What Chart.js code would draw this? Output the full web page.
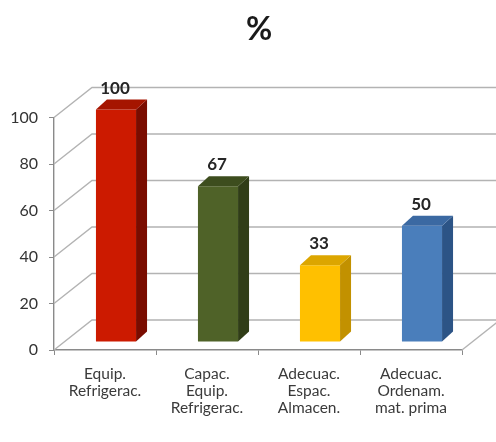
<!DOCTYPE html>
<html>
<head>
<meta charset="utf-8">
<script src="https://cdn.jsdelivr.net/npm/chart.js@4"></script>
<style>
  html, body { margin: 0; padding: 0; background: #ffffff; }
  #wrap { width: 496px; height: 442px; }
</style>
</head>
<body>
<div id="wrap"><canvas id="chart" width="496" height="442"></canvas></div>
<script>
// Chart data
const categories = [
  ['Equip.', 'Refrigerac.'],
  ['Capac.', 'Equip.', 'Refrigerac.'],
  ['Adecuac.', 'Espac.', 'Almacen.'],
  ['Adecuac.', 'Ordenam.', 'mat. prima']
];
const percentages = [100, 67, 33, 50];
const yTickValues = [0, 20, 40, 60, 80, 100];
const titleText = '%';

// Face colours of each 3D column
const frontColors = ['#cc1a00', '#4f6228', '#ffc000', '#4a7ebb'];
const sideColors  = ['#7a0c00', '#303d17', '#c29100', '#2c5486'];
const topColors   = ['#a51500', '#3d4d1e', '#dca600', '#3b69a2'];

// Depth of the walls (back plane offset) and of the columns
const WALL = { dx: 38, dy: -30 };
const COL_SHIFT = { dx: 11, dy: -8 };   // columns sit a bit behind the front plane
const COL_DEPTH = { dx: 11, dy: -10 };

const gridColor = '#b3b3b3';
const axisColor = '#8a8a8a';

const depthPlugin = {
  id: 'depthPlugin',
  beforeDatasetsDraw(chart) {
    const { ctx, chartArea: a, scales } = chart;
    const y = scales.y;
    ctx.save();
    ctx.strokeStyle = gridColor;
    ctx.lineWidth = 1.4;
    // back wall gridlines and the left wall diagonals
    yTickValues.forEach(v => {
      const py = y.getPixelForValue(v);
      ctx.beginPath();
      ctx.moveTo(a.left, py);
      ctx.lineTo(a.left + WALL.dx, py + WALL.dy);
      ctx.lineTo(a.right + WALL.dx, py + WALL.dy);
      ctx.stroke();
    });
    // right edge of the floor
    ctx.beginPath();
    ctx.moveTo(a.right, a.bottom);
    ctx.lineTo(a.right + WALL.dx, a.bottom + WALL.dy);
    ctx.stroke();
    ctx.restore();

    // columns are drawn one step behind the front plane
    ctx.save();
    ctx.translate(COL_SHIFT.dx, COL_SHIFT.dy);
  },
  afterDatasetsDraw(chart) {
    const { ctx } = chart;
    const meta = chart.getDatasetMeta(0);
    meta.data.forEach((bar, i) => {
      const p = bar.getProps(['x', 'y', 'base', 'width'], true);
      const L = p.x - p.width / 2, R = p.x + p.width / 2;
      // side face
      ctx.fillStyle = sideColors[i];
      ctx.beginPath();
      ctx.moveTo(R, p.y);
      ctx.lineTo(R + COL_DEPTH.dx, p.y + COL_DEPTH.dy);
      ctx.lineTo(R + COL_DEPTH.dx, p.base + COL_DEPTH.dy);
      ctx.lineTo(R, p.base);
      ctx.closePath();
      ctx.fill();
      // top face
      ctx.fillStyle = topColors[i];
      ctx.beginPath();
      ctx.moveTo(L, p.y);
      ctx.lineTo(L + COL_DEPTH.dx, p.y + COL_DEPTH.dy);
      ctx.lineTo(R + COL_DEPTH.dx, p.y + COL_DEPTH.dy);
      ctx.lineTo(R, p.y);
      ctx.closePath();
      ctx.fill();
      // value label above the column
      ctx.fillStyle = '#262626';
      ctx.font = 'bold 17px Lato';
      ctx.textAlign = 'center';
      ctx.textBaseline = 'alphabetic';
      ctx.fillText(String(percentages[i]), p.x - 1, p.y + COL_DEPTH.dy - 6);
    });
    ctx.restore();
  },
  afterDraw(chart) {
    const { ctx } = chart;
    ctx.save();
    ctx.fillStyle = '#1a1a1a';
    ctx.font = 'bold 32px Lato';
    ctx.textAlign = 'center';
    ctx.textBaseline = 'middle';
    ctx.fillText(titleText, 259, 30);
    ctx.restore();
  }
};

new Chart(document.getElementById('chart'), {
  type: 'bar',
  data: {
    labels: categories,
    datasets: [{
      data: percentages,
      backgroundColor: frontColors,
      borderWidth: 0,
      barPercentage: 0.393,
      categoryPercentage: 1,
      clip: false
    }]
  },
  options: {
    responsive: false,
    animation: false,
    devicePixelRatio: 1,
    layout: { padding: { left: 0, right: 34, top: 117.5, bottom: 0 } },
    plugins: {
      legend: { display: false },
      title: { display: false },
      tooltip: { enabled: false }
    },
    scales: {
      x: {
        afterFit(scale) { scale.height = 92; },
        grid: {
          offset: true,
          drawOnChartArea: false,
          drawTicks: true,
          tickLength: 5,
          color: axisColor
        },
        border: { display: true, color: axisColor, width: 1.4 },
        ticks: {
          autoSkip: false,
          maxRotation: 0,
          padding: 11,
          color: '#3a3a3a',
          font: { family: 'Lato', size: 15.5, lineHeight: 1.08 }
        }
      },
      y: {
        min: 0,
        max: 100,
        afterFit(scale) { scale.width = 54; },
        afterBuildTicks(scale) { scale.ticks = yTickValues.map(v => ({ value: v })); },
        grid: {
          drawOnChartArea: false,
          drawTicks: true,
          tickLength: 5,
          color: axisColor
        },
        border: { display: true, color: axisColor, width: 1.4 },
        ticks: {
          padding: 11,
          color: '#333333',
          font: { family: 'Lato', size: 16 }
        }
      }
    }
  },
  plugins: [depthPlugin]
});
</script>
</body>
</html>
